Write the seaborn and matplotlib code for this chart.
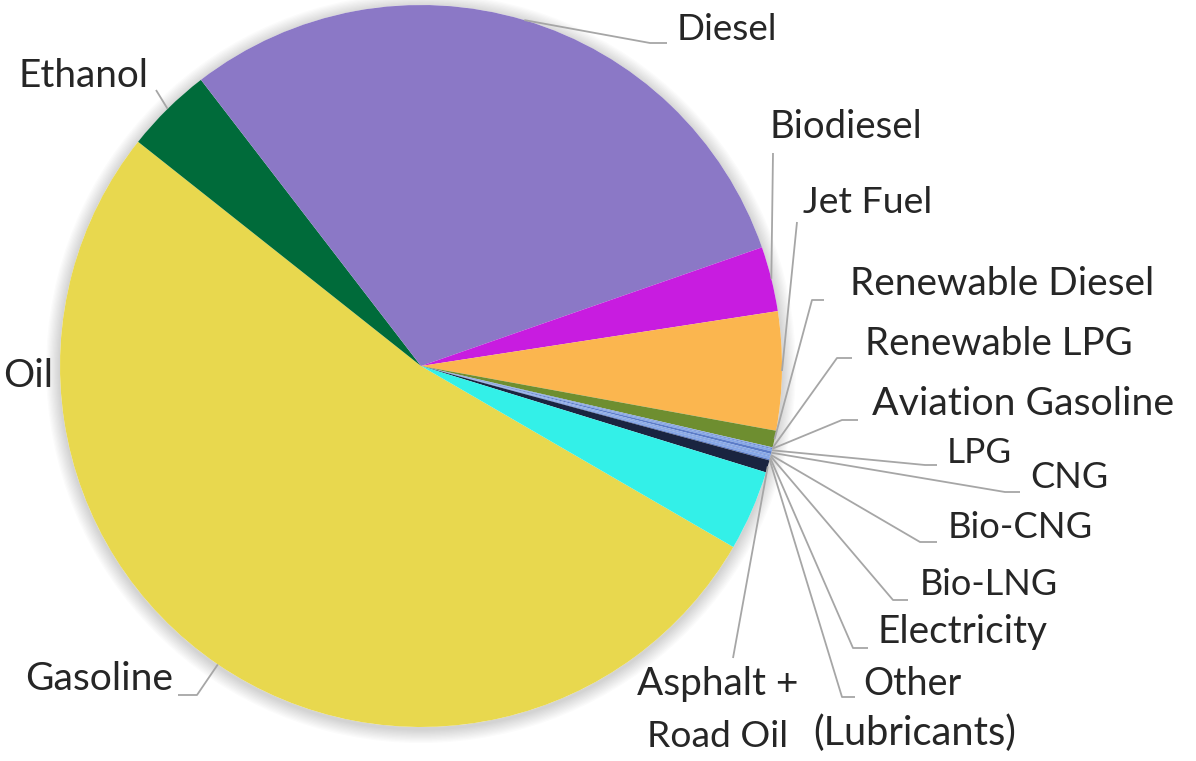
import matplotlib
matplotlib.use("Agg")
import matplotlib.pyplot as plt
import seaborn as sns
import numpy as np
from matplotlib.patches import Circle

# ---------------- data ----------------
categories = ["Gasoline", "Ethanol", "Diesel", "Biodiesel", "Jet Fuel",
              "Renewable Diesel", "Renewable LPG", "Aviation Gasoline", "LPG",
              "CNG", "Bio-CNG", "Bio-LNG", "Electricity", "Other (Lubricants)",
              "Asphalt + Road Oil", "Residual Fuel Oil"]
shares = [52.3, 3.9, 30.1, 2.9, 5.3, 0.75, 0.04, 0.04, 0.10, 0.12, 0.08,
          0.03, 0.12, 0.06, 0.55, 3.6]
label_texts = [["Gasoline"], ["Ethanol"], ["Diesel"], ["Biodiesel"], ["Jet Fuel"],
               ["Renewable Diesel"], ["Renewable LPG"], ["Aviation Gasoline"], ["LPG"],
               ["CNG"], ["Bio-CNG"], ["Bio-LNG"], ["Electricity"], ["Other", "(Lubricants)"],
               ["Asphalt +", "Road Oil"], ["Oil"]]

# ---------------- style ----------------
colors = ["#E8D84E", "#006B3A", "#8B78C6", "#C81CE0", "#FBB64F", "#6E8E30",
          "#86A8E8", "#5C7CC8", "#86A8E8", "#5C7CC8", "#86A8E8", "#5C7CC8",
          "#86A8E8", "#5C7CC8", "#1A2440", "#33F0E8"]
palette = sns.color_palette(colors)

sns.set_theme(style="white")
plt.rcParams['font.family'] = ['Lato', 'DejaVu Sans']

W, H = 1196, 761
CX, CY, R = 421, 366, 361

def p2d(x, y):
    return ((x - CX) / R, (CY - y) / R)

# label layout in pixels: per line (left, right, baseline); leader elbow points
label_lines = [
    [(25, 173, 690)],
    [(18, 148, 87)],
    [(677, 778, 40)],
    [(770, 923, 138)],
    [(803, 933, 213)],
    [(850, 1155, 295)],
    [(865, 1133, 355)],
    [(872, 1175, 415)],
    [(947, 1012, 463)],
    [(1030, 1108, 488)],
    [(948, 1093, 538)],
    [(920, 1058, 595)],
    [(878, 1048, 643)],
    [(863, 962, 695), (813, 1017, 745)],
    [(637, 798, 695), (647, 788, 747)],
    [(None, 3, 387)],
]
leaders = [
    [(197, 695), (178, 695)],
    [(156, 90)],
    [(650, 43), (667, 43)],
    [(773, 153)],
    [(797, 222)],
    [(812, 300), (824, 300)],
    [(837, 358), (852, 358)],
    [(842, 420), (858, 420)],
    [(925, 465), (937, 465)],
    [(1005, 492), (1020, 492)],
    [(920, 542), (937, 542)],
    [(893, 600), (908, 600)],
    [(853, 648), (868, 648)],
    [(842, 697), (855, 697)],
    [(733, 658)],
    None,
]

fig = plt.figure(figsize=(W / 100, H / 100), dpi=100)
fig.patch.set_facecolor("white")
ax = fig.add_axes([0, 0, 1, 1])

# soft shadow around the pie
for k in range(1, 12):
    ax.add_patch(Circle((0.0, -0.006), 1 + 0.0035 * k, facecolor="black",
                        edgecolor="none", alpha=0.016, zorder=0))
ax.add_patch(Circle((0, 0), 1.0, facecolor="white", edgecolor="none", zorder=0.5))

wedges, _ = ax.pie(shares, colors=palette, startangle=-30.1, counterclock=False,
                   radius=1.0, wedgeprops=dict(linewidth=0, antialiased=True))
for w in wedges:
    w.set_zorder(1)

ax.set_xlim(-CX / R, (W - CX) / R)
ax.set_ylim(-(H - CY) / R, CY / R)
ax.set_aspect("auto")
ax.axis("off")

renderer = fig.canvas.get_renderer()
text_color = "#262626"
base_size = None
for i, lines in enumerate(label_lines):
    for (txt, (l, r, b)) in zip(label_texts[i], lines):
        if l is None:
            continue
        x, y = p2d(l, b)
        t = ax.text(x, y, txt, ha="left", va="baseline", fontsize=20,
                    color=text_color, zorder=5)
        bb = t.get_window_extent(renderer)
        t.set_fontsize(20 * (r - l) / bb.width)
        if txt == "Gasoline":
            base_size = 20 * (r - l) / bb.width

# "Oil" label at the left edge (kept fully inside the figure)
for i, lines in enumerate(label_lines):
    for (txt, (l, r, b)) in zip(label_texts[i], lines):
        if l is None:
            x, y = p2d(r, b)
            ax.text(x, y, txt, ha="left", va="baseline", fontsize=base_size,
                    color=text_color, zorder=5)

# leader lines from wedge mid-angle to label
for w, pts in zip(wedges, leaders):
    if pts is None:
        continue
    mid = np.deg2rad((w.theta1 + w.theta2) / 2)
    xs = [np.cos(mid)]
    ys = [np.sin(mid)]
    for (px, py) in pts:
        dx, dy = p2d(px, py)
        xs.append(dx)
        ys.append(dy)
    ax.plot(xs, ys, color="#A6A6A6", lw=1.3, zorder=4, solid_capstyle="butt")

fig.savefig("out.png", dpi=100, facecolor="white")
